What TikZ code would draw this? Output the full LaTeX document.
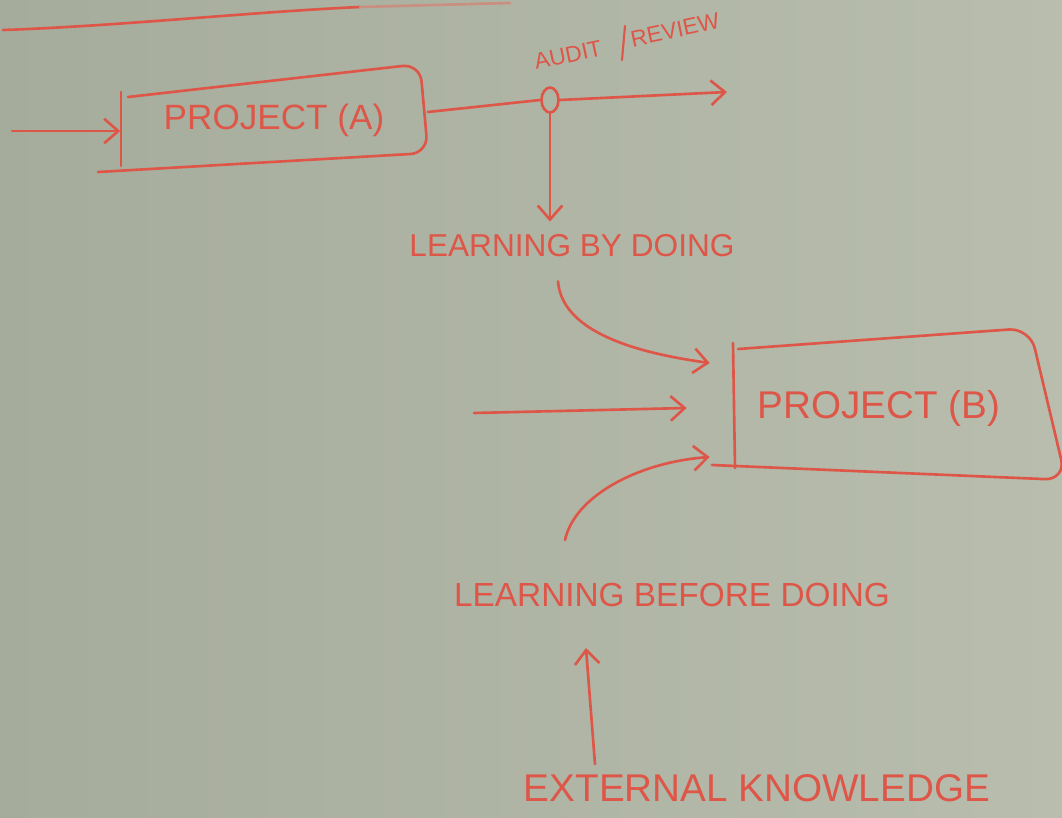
\documentclass[tikz,border=0pt]{standalone}
\usepackage{fontspec}
\setmainfont{Liberation Sans}
\usetikzlibrary{shapes.geometric,arrows.meta}
\definecolor{boardL}{RGB}{166,172,156}
\definecolor{boardR}{RGB}{184,189,174}
\definecolor{marker}{RGB}{222,86,72}

\begin{document}
\begin{tikzpicture}
  [x=0.02cm, y=-0.02cm,
   ink/.style={draw=marker, line width=1.5pt, line cap=round, line join=round},
   link/.style={ink, -{Straight Barb[length=8pt,width=14pt]}},
   box node/.style={rectangle, inner sep=0pt, text=marker, font=\fontsize{20}{24}\selectfont},
   word node/.style={text=marker, font=\fontsize{19}{22}\selectfont},
   small word/.style={word node, rotate=12, inner sep=1pt, font=\fontsize{13}{15}\selectfont}]

\useasboundingbox (0,0) rectangle (1062,818);
\shade[left color=boardL, right color=boardR] (0,0) rectangle (1062,818);
\clip (0,0) rectangle (1062,818);

% heading underline
\draw[ink] (3,30) .. controls (120,26) and (250,12) .. (360,7);
\draw[ink, draw=marker!45!boardR] (360,7) -- (510,3);

\node[box node, minimum width=6.14cm, minimum height=2cm] (A) at (274,120) {PROJECT (A)};
\node[box node, minimum width=5.84cm, minimum height=2.4cm, font=\fontsize{22}{26}\selectfont] (B) at (879,408) {PROJECT (B)};
\node[ink, ellipse, minimum width=0.34cm, minimum height=0.5cm, inner sep=0pt] (audit) at (550,100) {};
\node[small word] (aud) at (568,55) {AUDIT};
\node[small word] (rev) at (675,30) {REVIEW};
\node[word node, font=\fontsize{18}{21}\selectfont] (lbd) at (572,246) {LEARNING BY DOING};
\node[word node] (lbfd) at (672,595) {LEARNING BEFORE DOING};
\node[word node, font=\fontsize{22}{26}\selectfont] (ext) at (757,788) {EXTERNAL KNOWLEDGE};

\coordinate (inA) at (12,131);
\coordinate (outA) at (727,92);
\coordinate (inB) at (474,413);

% box outlines
\draw[ink] (121,92) -- (121,166);
\draw[ink, rounded corners=10] (128,97) -- (420,64) -- (428,153) -- (98,172);
\draw[ink] (733,343) -- (735,468);
\draw[ink, rounded corners=12] (738,349) -- (1030,328) -- (1066,480) -- (712,465);
% audit / review divider
\draw[ink, line width=1.2pt] (622,60) -- (625,26);

\path
  (inA) edge [link] (inA -| A.west)
  ([yshift=0.16cm]A.east) edge [ink] (audit.west)
  (audit.east) edge [link] (outA)
  (audit.south) edge [link, shorten >=4pt] (audit.south |- lbd.north)
  (inB) edge [link] ([shift={(-46,0)}]B.west);

\draw[link] ([shift={(-14,18)}]lbd.south) .. controls (562,330) and (630,352) .. ([shift={(-23,-45)}]B.west);
\draw[link] ([shift={(-107,-37)}]lbfd.north) .. controls (575,495) and (640,462) .. ([shift={(-23,49)}]B.west);
\draw[link] ([shift={(-162,-4)}]ext.north) -- ([shift={(-86,35)}]lbfd.south);

\end{tikzpicture}
\end{document}
